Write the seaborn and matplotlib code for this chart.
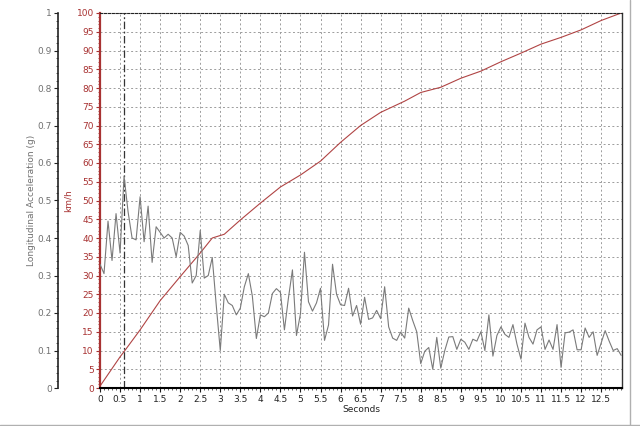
import numpy as np
import pandas as pd
import seaborn as sns
import matplotlib.pyplot as plt
from matplotlib.lines import Line2D
from matplotlib.ticker import MultipleLocator

# longitudinal acceleration (g), sampled every 0.1 s from 0 to 13 s
accel = [
    0.33, 0.305, 0.445, 0.34, 0.465, 0.36, 0.565, 0.47, 0.40, 0.395,
    0.51, 0.39, 0.485, 0.335, 0.43, 0.415, 0.40, 0.41, 0.40, 0.35,
    0.415, 0.405, 0.38, 0.28, 0.30, 0.42, 0.293, 0.30, 0.348, 0.22,
    0.10, 0.25, 0.227, 0.22, 0.195, 0.213, 0.27, 0.305, 0.245, 0.132,
    0.195, 0.19, 0.20, 0.252, 0.265, 0.255, 0.155, 0.24, 0.315, 0.14,
    0.198, 0.362, 0.23, 0.205, 0.227, 0.266, 0.127, 0.168, 0.33, 0.25,
    0.222, 0.22, 0.266, 0.192, 0.22, 0.17, 0.242, 0.183, 0.187, 0.207,
    0.185, 0.27, 0.163, 0.133, 0.127, 0.149, 0.133, 0.213, 0.18, 0.15,
    0.065, 0.098, 0.108, 0.05, 0.135, 0.053, 0.10, 0.136, 0.137, 0.103,
    0.13, 0.122, 0.103, 0.13, 0.125, 0.15, 0.10, 0.195, 0.085, 0.14,
    0.163, 0.143, 0.135, 0.169, 0.117, 0.077, 0.173, 0.135, 0.117, 0.155,
    0.163, 0.103, 0.128, 0.103, 0.169, 0.055, 0.147, 0.149, 0.155, 0.102,
    0.102, 0.16, 0.135, 0.15, 0.087, 0.12, 0.153, 0.125, 0.10, 0.105,
    0.087,
]
t_accel = np.round(np.arange(len(accel)) * 0.1, 1)

# vehicle speed (km/h)
t_speed = [0, 0.5, 0.6, 1.0, 1.5, 2.0, 2.5, 2.8, 3.1, 3.5, 4.0, 4.5, 5.0, 5.5,
           6.0, 6.5, 7.0, 7.3, 7.6, 8.0, 8.5, 9.0, 9.5, 10.0, 10.5, 11.0,
           11.5, 12.0, 12.5, 13.0]
speed = [0.5, 8.3, 9.7, 15.5, 23.3, 29.7, 36.0, 40.0, 41.0, 44.8, 49.3, 53.6,
         56.8, 60.5, 65.5, 70.0, 73.5, 75.0, 76.5, 78.8, 80.2, 82.6, 84.5,
         87.0, 89.3, 91.7, 93.5, 95.5, 98.0, 100.0]

marker_t = 0.6

acc_df = pd.DataFrame({"t": t_accel, "g": accel})
spd_df = pd.DataFrame({"t": t_speed, "kmh": speed})

sns.set_style("white")
plt.rcParams["font.family"] = ["DejaVu Sans"]

red = "#a83232"
grey_txt = "#707070"

fig = plt.figure(figsize=(6.4, 4.26), dpi=100)
ax = fig.add_axes([100 / 640, 38 / 426, 522 / 640, 375 / 426])
ax2 = ax.twinx()

# grid on the speed axes
ax.set_axisbelow(True)
ax.grid(True, color="#9c9c9c", linestyle=(0, (2, 2.5)), linewidth=0.7)

sns.lineplot(data=spd_df, x="t", y="kmh", ax=ax, color="#b04444", linewidth=0.8)
sns.lineplot(data=acc_df, x="t", y="g", ax=ax2, color="#7a7a7a", linewidth=0.8)
ax.axvline(marker_t, color="#333333", linestyle=(0, (6, 2, 1.5, 2)), linewidth=0.9)

ax.set_xlim(0, 13.02)
ax.set_ylim(0, 100)
ax2.set_ylim(0, 1)

ax.set_xticks(np.arange(0, 13.0, 0.5))
ax.xaxis.set_minor_locator(MultipleLocator(0.1))
ax.xaxis.set_major_formatter(plt.FuncFormatter(lambda v, p: f"{v:g}"))
ax.yaxis.set_major_locator(MultipleLocator(5))
ax.yaxis.set_minor_locator(MultipleLocator(1))
ax2.yaxis.set_major_locator(MultipleLocator(0.1))
ax2.yaxis.set_minor_locator(MultipleLocator(0.02))
ax2.yaxis.set_major_formatter(plt.FuncFormatter(lambda v, p: f"{v:g}"))

# speed axis styling
ax.spines["left"].set_color(red)
ax.spines["left"].set_linewidth(1.6)
ax.spines["bottom"].set_color("black")
ax.spines["bottom"].set_linewidth(1.5)
ax.spines["right"].set_color("#333333")
ax.spines["right"].set_linewidth(1)
ax.spines["top"].set_color("#222222")
ax.spines["top"].set_linestyle((0, (2, 1.5)))
ax.tick_params(axis="y", which="major", colors=red, labelsize=6.5, length=3,
               direction="out", left=True, pad=1.5)
ax.tick_params(axis="y", which="minor", colors=red, length=1.2, left=True)
ax.tick_params(axis="x", which="major", colors="#222222", labelsize=6.5,
               length=3, direction="out", bottom=True, pad=2)
ax.tick_params(axis="x", which="minor", colors="#444444", length=1.2,
               bottom=True)
ax.set_xlabel("Seconds", fontsize=6.5, color="#222222", labelpad=1)
ax.set_ylabel("km/h", fontsize=6.5, color=red, labelpad=3)

# acceleration axis, moved 42 px out to the left
for s in ["top", "right", "bottom"]:
    ax2.spines[s].set_visible(False)
ax2.spines["left"].set_visible(True)
ax2.spines["left"].set_position(("outward", 42 * 72 / 100))
ax2.spines["left"].set_color("#222222")
ax2.spines["left"].set_linewidth(1.2)
ax2.yaxis.set_ticks_position("left")
ax2.yaxis.set_label_position("left")
ax2.tick_params(axis="y", which="major", colors="#222222", labelcolor=grey_txt,
                labelsize=6.5, length=3, direction="out", pad=1.5)
ax2.tick_params(axis="y", which="minor", colors="#444444", length=1.2)
ax2.set_ylabel("Longitudinal Acceleration (g)", fontsize=6.5, color=grey_txt,
               labelpad=1)
ax2.set_xlabel("")

# screenshot frame lines
fig.add_artist(Line2D([630 / 640, 630 / 640], [0, 1], color="#b0b0b0", linewidth=1))
fig.add_artist(Line2D([0, 1], [1.5 / 426, 1.5 / 426], color="#b0b0b0", linewidth=1))

plt.savefig("out.png", dpi=100)
